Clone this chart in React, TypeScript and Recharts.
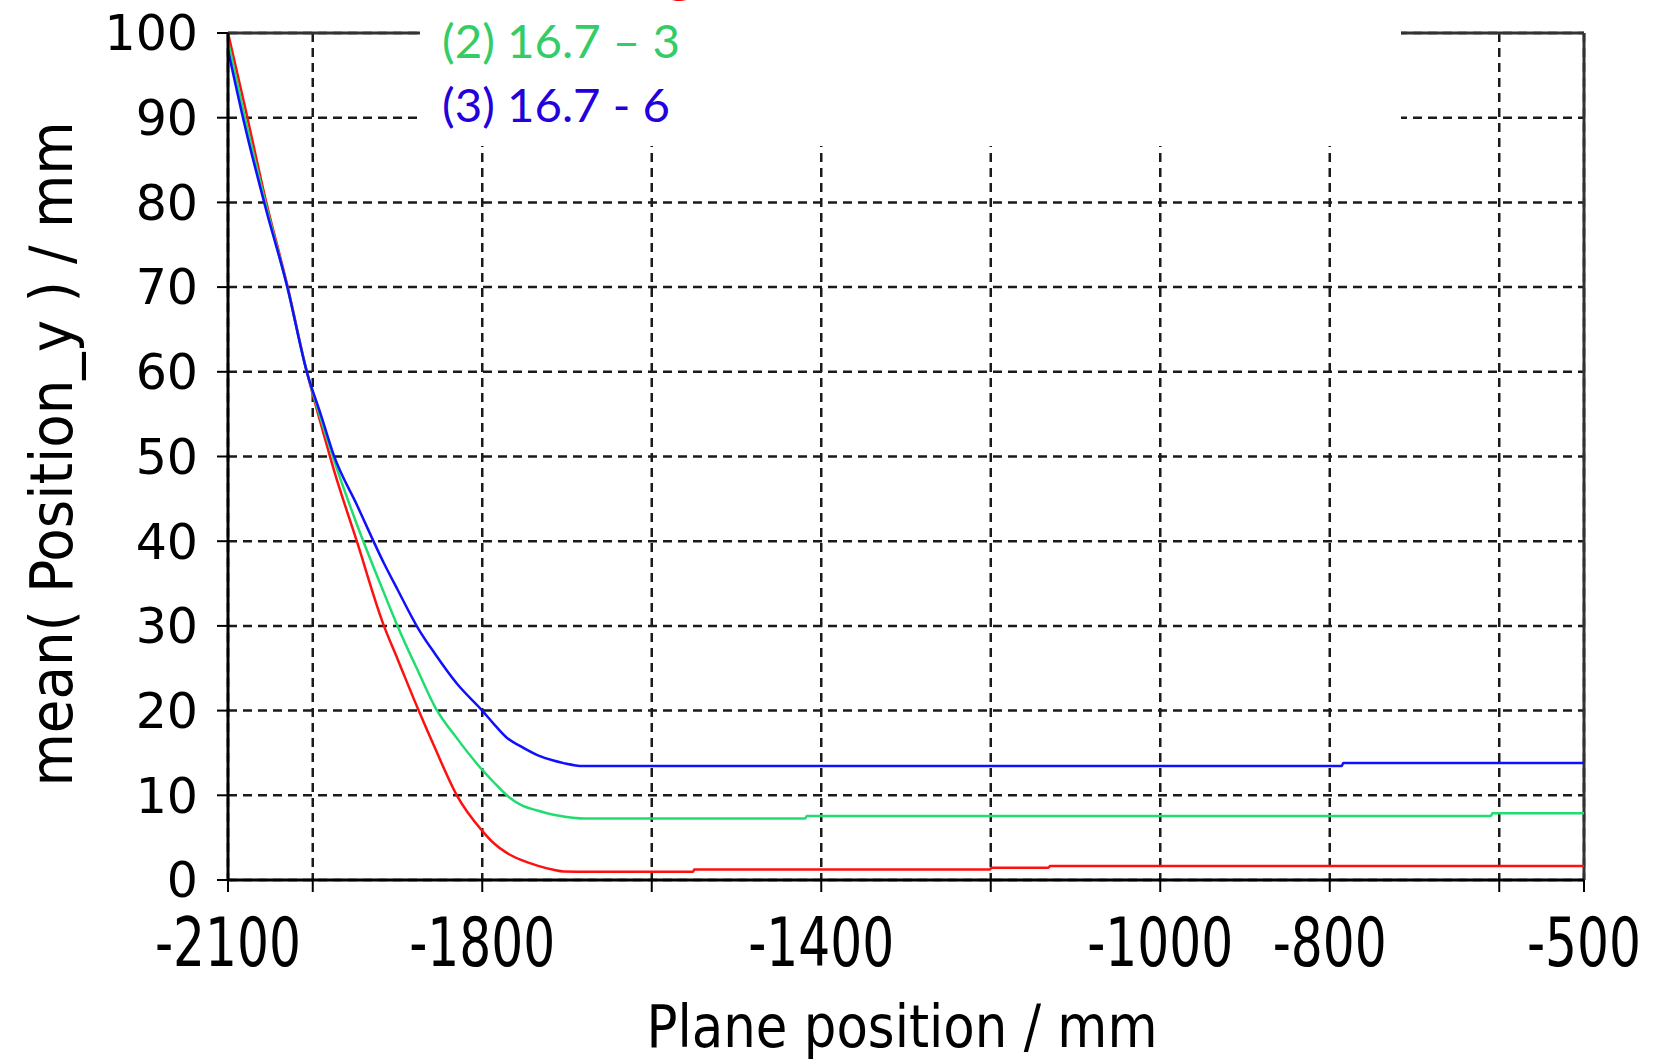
import { LineChart, Line, XAxis, YAxis, CartesianGrid, ReferenceLine, Label } from "recharts";

// plane position (mm), shared by the three runs
const positions = [
  -2100, -2080, -2056, -2030, -2007, -1990, -1975, -1948, -1916, -1900, -1875, -1855,
  -1830, -1800, -1787, -1771, -1755, -1735, -1716, -1704, -1681, -1551, -1550, -1419,
  -1417, -1201, -1199, -1132, -1130, -786, -784, -610, -608, -500,
];

// mean(Position_y) in mm
const run1 = [
  100, 91.3, 80.5, 70.2, 60, 53.7, 48.4, 40, 30, 26.1, 20, 15.4,
  10, 5.8, 4.4, 3.2, 2.4, 1.7, 1.2, 1.0, 0.98, 0.98, 1.25, 1.25,
  1.25, 1.25, 1.45, 1.45, 1.65, 1.65, 1.65, 1.65, 1.65, 1.65,
];
const run2 = [
  99, 90, 80, 70, 60, 54.3, 49.6, 42, 33.9, 30, 24.5, 20.3,
  16.75, 13, 11.6, 10, 8.9, 8.2, 7.7, 7.5, 7.27, 7.27, 7.27, 7.27,
  7.55, 7.55, 7.55, 7.55, 7.55, 7.55, 7.55, 7.55, 7.87, 7.87,
];
const run3 = [
  98, 89, 79.5, 70, 60, 54.8, 50.1, 44.3, 37.4, 34.3, 29.6, 26.6,
  23.2, 20, 18.5, 16.8, 15.8, 14.75, 14.1, 13.8, 13.45, 13.45, 13.45, 13.45,
  13.45, 13.45, 13.45, 13.45, 13.45, 13.45, 13.8, 13.8, 13.8, 13.8,
];

const xTicks = [-2100, -2000, -1800, -1600, -1400, -1200, -1000, -800, -600, -500];
const xTickLabels = [-2100, -1800, -1400, -1000, -800, -500];
const yTicks = [0, 10, 20, 30, 40, 50, 60, 70, 80, 90, 100];

const legendLabels = ["(1) no ring", "(2) 16.7 \u2013 3", "(3) 16.7 - 6"];
const legendColors = ["#ff0000", "#33cc66", "#2400dc"];
const lineColors = ["#ff1010", "#20dd70", "#1010ff"];

const data = positions.map((x, i) => ({ x, r1: run1[i], r2: run2[i], r3: run3[i] }));

const axisFont = "'DejaVu Sans', Verdana, sans-serif";

const XTick = (props: any) => {
  const { x, y, payload } = props;
  if (!xTickLabels.includes(payload.value)) return <g />;
  return (
    <g transform={`translate(${x},${y})`}>
      <text
        x={0}
        y={0}
        dy={74}
        textAnchor="middle"
        fontFamily={axisFont}
        fontSize={68}
        fill="#000"
        transform="scale(0.74,1)"
      >
        {payload.value}
      </text>
    </g>
  );
};

const Legend = () => (
  <div
    style={{
      position: "absolute",
      left: 420,
      top: 0,
      width: 981,
      height: 146,
      background: "#fff",
    }}
  >
    <svg width={981} height={146}>
      {legendLabels.map((t, i) => (
        <text
          key={t}
          x={22}
          y={i === 0 ? -7 : -6 + i * 64}
          fontFamily="Lato, 'Open Sans', sans-serif"
          fontSize={46}
          fill={legendColors[i]}
          textLength={[253, 238, 228][i]}
          lengthAdjust="spacingAndGlyphs"
        >
          {t}
        </text>
      ))}
    </svg>
  </div>
);

export default function App() {
  return (
    <div style={{ position: "absolute", left: 0, top: 0, width: 1655, height: 1064, background: "#fff" }}>
      <LineChart width={1655} height={1064} data={data} margin={{ top: 33, right: 71, bottom: 0, left: 0 }}>
        <CartesianGrid stroke="#1a1a1a" strokeWidth={2.5} strokeDasharray="9 6" />
        <XAxis
          type="number"
          dataKey="x"
          domain={[-2100, -500]}
          ticks={xTicks}
          interval={0}
          height={184}
          tickSize={12}
          tickMargin={0}
          axisLine={{ stroke: "#000", strokeWidth: 3 }}
          tickLine={{ stroke: "#000", strokeWidth: 2 }}
          tick={XTick}
        >
          <Label
            content={() => (
              <text
                x={902}
                y={1047}
                textAnchor="middle"
                fontFamily={axisFont}
                fontSize={58}
                fill="#000"
                textLength={511}
                lengthAdjust="spacingAndGlyphs"
              >
                Plane position / mm
              </text>
            )}
          />
        </XAxis>
        <YAxis
          type="number"
          domain={[0, 100]}
          ticks={yTicks}
          interval={0}
          width={228}
          tickSize={11}
          tickMargin={19}
          axisLine={{ stroke: "#000", strokeWidth: 3 }}
          tickLine={{ stroke: "#000", strokeWidth: 2 }}
          tick={{ fontSize: 49, fontFamily: axisFont, fill: "#000" }}
        >
          <Label
            content={() => (
              <text
                transform="translate(72,454) rotate(-90)"
                textAnchor="middle"
                fontFamily={axisFont}
                fontSize={58}
                fill="#000"
                textLength={665}
                lengthAdjust="spacingAndGlyphs"
              >
                mean( Position_y ) / mm
              </text>
            )}
          />
        </YAxis>
        <ReferenceLine y={100} stroke="#333" strokeWidth={3} />
        <ReferenceLine x={-500} stroke="#333" strokeWidth={3} />
        <Line type="monotone" dataKey="r1" stroke={lineColors[0]} strokeWidth={2.5} dot={false} isAnimationActive={false} />
        <Line type="monotone" dataKey="r2" stroke={lineColors[1]} strokeWidth={2.5} dot={false} isAnimationActive={false} />
        <Line type="monotone" dataKey="r3" stroke={lineColors[2]} strokeWidth={2.5} dot={false} isAnimationActive={false} />
      </LineChart>
      <Legend />
    </div>
  );
}
